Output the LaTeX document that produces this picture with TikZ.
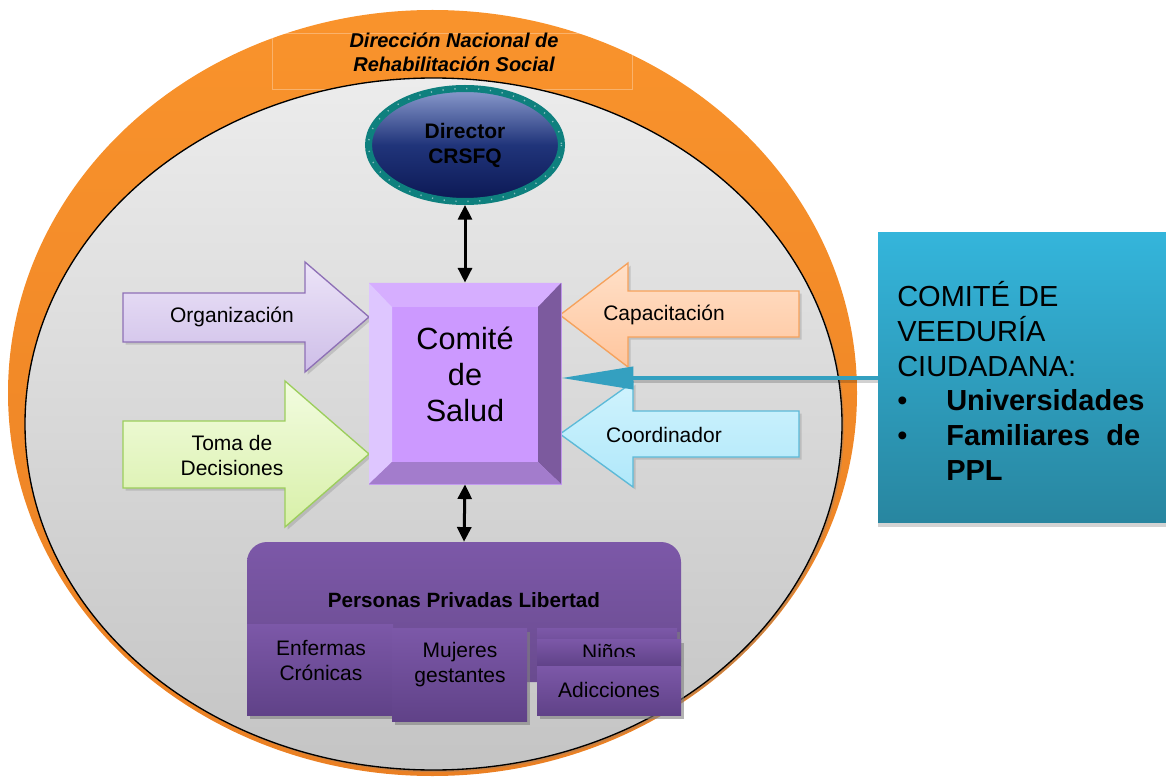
\documentclass[tikz,border=0pt]{standalone}
\usepackage{fontspec}
\setmainfont{Liberation Sans}
\usetikzlibrary{arrows.meta,shapes.geometric,shadows,calc}

\definecolor{ringTop}{RGB}{249,147,44}
\definecolor{ringBot}{RGB}{234,128,36}
\definecolor{grayTop}{RGB}{236,236,236}
\definecolor{grayBot}{RGB}{196,196,196}
\definecolor{dirRim}{RGB}{14,128,126}
\definecolor{dirTop}{RGB}{140,156,206}
\definecolor{dirMid}{RGB}{32,52,122}
\definecolor{dirBot}{RGB}{12,24,84}
\definecolor{cmFront}{RGB}{204,153,255}
\definecolor{cmTop}{RGB}{214,174,255}
\definecolor{cmLeft}{RGB}{222,198,255}
\definecolor{cmRight}{RGB}{124,90,158}
\definecolor{cmBottom}{RGB}{163,124,204}
\definecolor{cmEdge}{RGB}{200,160,245}
\definecolor{orgTop}{RGB}{236,228,248}
\definecolor{orgBot}{RGB}{206,190,232}
\definecolor{orgLine}{RGB}{142,112,182}
\definecolor{tomTop}{RGB}{242,252,224}
\definecolor{tomBot}{RGB}{216,240,168}
\definecolor{tomLine}{RGB}{156,206,92}
\definecolor{capTop}{RGB}{255,224,200}
\definecolor{capBot}{RGB}{255,198,158}
\definecolor{capLine}{RGB}{246,162,92}
\definecolor{cooTop}{RGB}{208,243,253}
\definecolor{cooBot}{RGB}{176,232,250}
\definecolor{cooLine}{RGB}{92,186,216}
\definecolor{veeTop}{RGB}{52,181,219}
\definecolor{veeBot}{RGB}{40,134,160}
\definecolor{linkTeal}{RGB}{52,160,192}
\definecolor{pplA}{RGB}{124,88,168}
\definecolor{pplB}{RGB}{96,66,136}

\begin{document}
\begin{tikzpicture}[x=0.75pt,y=-0.75pt,
  lbl/.style={font=\fontsize{15.75}{18.75}\selectfont, align=center, inner sep=0pt, text=black},
  blockarrow/.style={line width=1pt, drop shadow={shadow xshift=2pt, shadow yshift=-2pt, opacity=0.3}},
  dblarrow/.style={line width=2.25pt, arrows={Triangle[length=11pt,width=10.5pt]-Triangle[length=11pt,width=10.5pt]}},
  subbox/.style={rectangle, inner sep=0pt, top color=pplA, bottom color=pplB,
    drop shadow={shadow xshift=2pt, shadow yshift=-3pt, opacity=0.6}},
]
\useasboundingbox (0,0) rectangle (1166,780);

% outer orange ring
\path[top color=ringTop, bottom color=ringBot] (432.5,393) ellipse [x radius=424.5, y radius=383];

% faint frame of the heading text box
\node[draw=white, draw opacity=0.3, line width=0.4pt, minimum width=270pt, minimum height=42pt, inner sep=0pt] (titlebox) at (452,61) {};

% inner grey disc
\draw[line width=1pt, black, top color=grayTop, bottom color=grayBot,
  drop shadow={shadow xshift=1.5pt, shadow yshift=-1.5pt, opacity=0.35}]
  (433.5,424) ellipse [x radius=408.5, y radius=346];

\node[font=\bfseries\itshape\fontsize{15}{18}\selectfont, align=center, inner sep=0pt] (title) at (454,52)
  {Dirección Nacional de\\Rehabilitación Social};

% director
\node[ellipse, draw=dirRim, line width=5.25pt, minimum width=144.75pt, minimum height=84.75pt,
  top color=dirTop, bottom color=dirBot, middle color=dirMid, inner sep=0pt,
  font=\bfseries\fontsize{15.75}{18.75}\selectfont, align=center] (director) at (465,145) {Director\\CRSFQ};
\draw[white, opacity=0.5, line width=1.1pt, dash pattern=on 0.9pt off 8pt]
  (465,145) ellipse [x radius=96.5, y radius=56.5];

% block arrows on the left
\draw[blockarrow, draw=orgLine, top color=orgTop, bottom color=orgBot]
  (123,293) -- (305,293) -- (305,262) -- (369,317) -- (305,372) -- (305,342) -- (123,342) -- cycle;
\node[lbl] (org) at (232,317) {Organización};

\draw[blockarrow, draw=tomLine, top color=tomTop, bottom color=tomBot]
  (123,421) -- (285,421) -- (285,381) -- (369,454) -- (285,527) -- (285,488) -- (123,488) -- cycle;
\begin{scope}
  \clip (110,380) rectangle (300,475.5);
  \node[lbl] (toma) at (232,455) {Toma de\\Decisiones};
\end{scope}

% block arrows on the right
\draw[blockarrow, draw=capLine, top color=capTop, bottom color=capBot]
  (799,291) -- (628,291) -- (628,263) -- (560,315) -- (628,367) -- (628,337) -- (799,337) -- cycle;
\node[lbl] (cap) at (664,315) {Capacitación};

\draw[blockarrow, draw=cooLine, top color=cooTop, bottom color=cooBot]
  (799,411) -- (633,411) -- (633,382) -- (560,434) -- (633,487) -- (633,457) -- (799,457) -- cycle;
\node[lbl] (coord) at (664,435) {Coordinador};

% health committee block with bevelled edges
\node[rectangle, draw=cmEdge, line width=0.6pt, fill=cmFront, minimum width=144pt, minimum height=150.75pt, inner sep=0pt] (comite) at (465,383.5) {};
\fill[cmTop]    (369,283) -- (561,283) -- (538,307) -- (392,307) -- cycle;
\fill[cmLeft]   (369,283) -- (392,307) -- (392,462) -- (369,484) -- cycle;
\fill[cmRight]  (561,283) -- (561,484) -- (538,462) -- (538,307) -- cycle;
\fill[cmBottom] (369,484) -- (392,462) -- (538,462) -- (561,484) -- cycle;
\node[font=\fontsize{23}{27}\selectfont, align=center, inner sep=0pt] (comitetext) at (465,374) {Comité\\de\\Salud};

% vertical links
\draw[dblarrow] (director.south) -- (comite.north);

% citizen oversight committee
\node[rectangle, minimum width=219pt, minimum height=216.75pt, inner sep=0pt, top color=veeTop, bottom color=veeBot,
  drop shadow={shadow xshift=0pt, shadow yshift=-4pt, opacity=0.35}] (veeduria) at (1024,377.5) {};
\node[anchor=west, align=left, inner sep=0pt, font=\fontsize{21.75}{26}\selectfont] (veetext) at (897,381)
  {COMITÉ DE\\VEEDURÍA\\CIUDADANA:\\
   \makebox[36.75pt][l]{\textbullet}\textbf{Universidades}\\
   \makebox[36.75pt][l]{\textbullet}\makebox[145.5pt][s]{\textbf{Familiares de}}\\
   \hspace*{36.75pt}\textbf{PPL}};

\coordinate (vlink) at (878,378);
\draw[line width=3pt, black, opacity=0.18] ($(vlink)+(0,3)$) -- ($(comite.east |- vlink)+(70,3)$);
\draw[line width=3pt, linkTeal, arrows={-Triangle[length=54pt,width=16.5pt]}] (vlink) -- (comite.east |- vlink);

% persons deprived of liberty: rounded header panel, lower corners hidden by the sub-boxes
\node[rectangle, rounded corners=15pt, minimum width=325.5pt, minimum height=105pt, inner sep=0pt,
  top color=pplA, bottom color=pplA!85!black] (ppl) at (464,612) {};
\node[font=\bfseries\fontsize{15.5}{18}\selectfont, inner sep=0pt] (ppltitle) at (464,600) {Personas Privadas Libertad};

\node[subbox, minimum width=109.5pt, minimum height=68.25pt] (enf) at (320,669.5) {};
\node[subbox, minimum width=105pt, minimum height=24pt] (ninosback) at (607,644) {};
\node[subbox, minimum width=108pt, minimum height=20.25pt] (ninos) at (609,652.5) {};
\node[subbox, minimum width=108pt, minimum height=36.75pt] (adic) at (609,690.5) {};
\node[subbox, minimum width=101.25pt, minimum height=69.75pt] (muj) at (459.5,674.5) {};

\node[lbl] (enftext) at (321,660.5) {Enfermas\\Crónicas};
\node[lbl] (mujtext) at (460,665) {Mujeres\\gestantes};
\begin{scope}
  \clip (537,628) rectangle (681,656);
  \node[lbl] (ninostext) at (609,652) {Niños};
\end{scope}
\node[lbl] (adictext) at (609,690) {Adicciones};

\draw[dblarrow] (comite.south) -- (ppl.north);
\end{tikzpicture}
\end{document}
